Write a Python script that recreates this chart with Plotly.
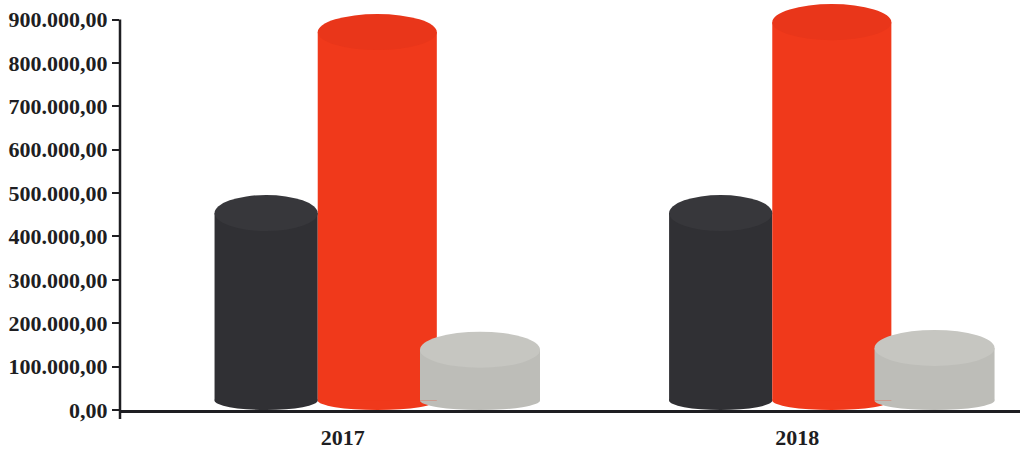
import plotly.graph_objects as go

# ---- data ----
years = ["2017", "2018"]
series_names = ["Série 1", "Série 2", "Série 3"]
dark_vals = [454000, 454000]
red_vals = [871000, 894000]
grey_vals = [139000, 143000]
y_tick_vals = [0, 100000, 200000, 300000, 400000, 500000, 600000, 700000, 800000, 900000]

# ---- style ----
YMAX = 945000
ELL = 41500          # half height of the top ellipse, in data units
ELL_B = 22000        # half height of the bottom ellipse
FONT = dict(family="Liberation Serif", size=22, color="#1e1e22", weight="bold")

styles = [
    # (values, offset, width, body colour, top colour)
    (dark_vals, -0.282, 0.227, "#303034", "#37373b"),
    (red_vals, -0.055, 0.262, "#f0391b", "#e9361a"),
    (grey_vals, 0.170, 0.264, "#bdbdb8", "#c6c6c1"),
]

xs = list(range(len(years)))
fig = go.Figure()
shapes = []
for (vals, off, wid, body, top), name in zip(styles, series_names):
    fig.add_trace(go.Bar(
        x=xs, y=[v - ELL_B for v in vals], base=[ELL_B] * len(vals),
        offset=off, width=wid, name=name,
        marker=dict(color=body, line=dict(width=0)),
        showlegend=False,
    ))
    for xi, v in zip(xs, vals):
        x0, x1 = xi + off, xi + off + wid
        # bottom end (behind bars)
        shapes.append(dict(type="circle", xref="x", yref="y", layer="below",
                           x0=x0, x1=x1, y0=0, y1=2 * ELL_B,
                           fillcolor=body, line=dict(width=0)))
        # top end
        shapes.append(dict(type="circle", xref="x", yref="y", layer="above",
                           x0=x0, x1=x1, y0=v - ELL, y1=v + ELL,
                           fillcolor=top, line=dict(width=0)))

# y axis line (stops at the last tick, passes a little below zero)
shapes.append(dict(type="line", xref="paper", yref="paper",
                   x0=0, x1=0, y0=-0.022, y1=y_tick_vals[-1] / YMAX,
                   line=dict(color="#1e1e22", width=2.5)))

fig.update_layout(
    width=1020, height=452,
    margin=dict(l=120, r=0, t=0, b=42),
    paper_bgcolor="white", plot_bgcolor="white",
    separators=",.",
    barmode="overlay",
    shapes=shapes,
    showlegend=False,
)
fig.update_xaxes(
    range=[-0.49, 1.49], tickvals=xs, ticktext=years,
    showline=True, linecolor="#1e1e22", linewidth=2.5,
    ticks="", showgrid=False, zeroline=False,
    tickfont=FONT, ticklabelstandoff=6,
)
fig.update_yaxes(
    range=[0, YMAX], tickvals=y_tick_vals, tickformat=",.2f",
    showline=False, ticks="outside", ticklen=7, tickwidth=2.2, tickcolor="#1e1e22",
    showgrid=False, zeroline=False, tickfont=FONT,
)

fig.write_html("out.html")
